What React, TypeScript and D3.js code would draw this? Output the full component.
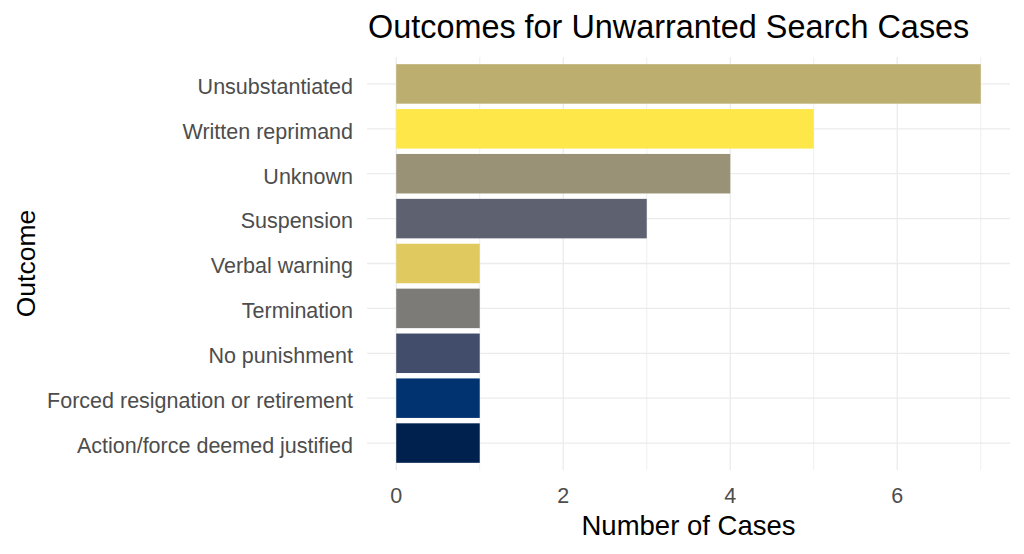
import React from "react";
import * as d3 from "d3";

const categories = [
  "Unsubstantiated",
  "Written reprimand",
  "Unknown",
  "Suspension",
  "Verbal warning",
  "Termination",
  "No punishment",
  "Forced resignation or retirement",
  "Action/force deemed justified",
];
const counts = [7, 5, 4, 3, 1, 1, 1, 1, 1];
const colors = [
  "#BCAE6E",
  "#FEE748",
  "#9A9276",
  "#5E6270",
  "#E0C95E",
  "#7C7B78",
  "#414D6B",
  "#00336F",
  "#00204D",
];
const xTicks = [0, 2, 4, 6];
const xGrid = [0, 1, 2, 3, 4, 5, 6, 7];

const W = 1024;
const H = 554;
const panel = { left: 367, right: 1010, top: 57, bottom: 470 };
const font = "'Liberation Sans', Arial, sans-serif";

export default function App() {
  const xMax = 7;
  const x = d3
    .scaleLinear()
    .domain([-0.05 * xMax, xMax * 1.05])
    .range([panel.left, panel.right]);
  const n = categories.length;
  const yPos = d3
    .scaleLinear()
    .domain([-0.6, n - 1 + 0.6])
    .range([panel.top, panel.bottom]);
  const bw = (yPos(1) - yPos(0)) * 0.88;

  return (
    <svg
      width={W}
      height={H}
      style={{ position: "absolute", left: 0, top: 0, background: "#fff" }}
    >
      {xGrid.map((t) => (
        <line
          key={"gx" + t}
          x1={x(t)}
          x2={x(t)}
          y1={panel.top}
          y2={panel.bottom}
          stroke="#EBEBEB"
          strokeWidth={t % 2 === 0 ? 1.3 : 0.8}
        />
      ))}
      {categories.map((c, i) => (
        <line
          key={"gy" + c}
          x1={panel.left}
          x2={panel.right}
          y1={yPos(i)}
          y2={yPos(i)}
          stroke="#EBEBEB"
          strokeWidth={1.3}
        />
      ))}
      {categories.map((c, i) => (
        <rect
          key={"b" + c}
          x={x(0)}
          y={yPos(i) - bw / 2}
          width={x(counts[i]) - x(0)}
          height={bw}
          fill={colors[i]}
        />
      ))}
      {categories.map((c, i) => (
        <text
          key={"l" + c}
          x={353}
          y={yPos(i)}
          dy="0.46em"
          textAnchor="end"
          fontFamily={font}
          fontSize={21.5}
          fill="#4D4D4D"
        >
          {c}
        </text>
      ))}
      {xTicks.map((t) => (
        <text
          key={"xt" + t}
          x={x(t)}
          y={503}
          textAnchor="middle"
          fontFamily={font}
          fontSize={21.5}
          fill="#4D4D4D"
        >
          {t}
        </text>
      ))}
      <text
        x={(panel.left + panel.right) / 2}
        y={535}
        textAnchor="middle"
        fontFamily={font}
        fontSize={27.5}
        fill="#000"
      >
        Number of Cases
      </text>
      <text
        transform={`translate(35, ${(panel.top + panel.bottom) / 2}) rotate(-90)`}
        textAnchor="middle"
        fontFamily={font}
        fontSize={26.5}
        fill="#000"
      >
        Outcome
      </text>
      <text
        x={368}
        y={38}
        textAnchor="start"
        fontFamily={font}
        fontSize={32.4}
        fill="#000"
      >
        Outcomes for Unwarranted Search Cases
      </text>
    </svg>
  );
}
